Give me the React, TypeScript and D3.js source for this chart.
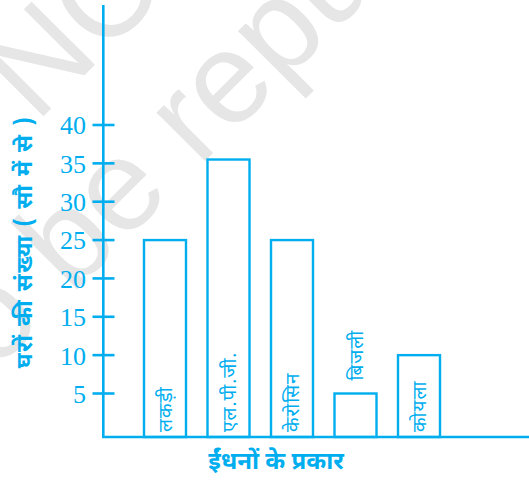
import React from "react";
import * as d3 from "d3";

const categories = ["लकड़ी", "एल.पी.जी.", "केरोसिन", "बिजली", "कोयला"];
const values = [25, 35.5, 25, 5, 10];
const tickValues = [5, 10, 15, 20, 25, 30, 35, 40];
const yTitle = "घरों की संख्या ( सौ में से )";
const xTitle = "ईंधनों के प्रकार";
const watermark1 = "© NCERT";
const watermark2 = "not to be republished";

const W = 529;
const H = 480;
const BLUE = "#00AEEF";
const DEVA = "'Noto Sans Devanagari', 'Lohit Devanagari', 'Noto Sans', sans-serif";

export default function App() {
  const axisX = 103.3;
  const axisY = 437;
  const y = d3.scaleLinear().domain([5, 40]).range([393.5, 125]);
  const x = d3.scalePoint<string>().domain(categories).range([165, 419]);
  const barW = 42;

  return (
    <svg width={W} height={H} style={{ position: "absolute", left: 0, top: 0, background: "#fff" }}>
      <g transform="rotate(-45)" fill="#e6e6e6" fontFamily="'Liberation Sans', Arial, sans-serif" fontSize={130}>
        <text x={-194} y={113}>{watermark1}</text>
        <text x={-520} y={259}>{watermark2}</text>
      </g>

      {/* y axis */}
      <line x1={axisX} x2={axisX} y1={5} y2={axisY + 1} stroke={BLUE} strokeWidth={2.6} />
      {/* x axis */}
      <line x1={axisX - 1} x2={W} y1={axisY} y2={axisY} stroke={BLUE} strokeWidth={2.6} />

      {tickValues.map((t) => (
        <g key={t}>
          <line x1={92.5} x2={114.5} y1={y(t)} y2={y(t)} stroke={BLUE} strokeWidth={2.6} />
          <text
            x={86}
            y={y(t)}
            dy="0.36em"
            textAnchor="end"
            fill={BLUE}
            fontFamily="'Liberation Serif', 'Times New Roman', serif"
            fontSize={26}
          >
            {t}
          </text>
        </g>
      ))}

      {categories.map((c, i) => {
        const cx = x(c) as number;
        const top = y(values[i]);
        const h = axisY - top;
        const inside = h > 60;
        const ly = inside ? axisY - 5 : top - 13;
        return (
          <g key={c}>
            <rect x={cx - barW / 2} y={top} width={barW} height={h} fill="none" stroke={BLUE} strokeWidth={2.4} />
            <text
              transform={`translate(${cx},${ly}) rotate(-90)`}
              dy="0.38em"
              fill={BLUE}
              fontFamily={DEVA}
              fontSize={19}
              letterSpacing={1}
            >
              {c}
            </text>
          </g>
        );
      })}

      <text
        transform={`translate(23,242) rotate(-90)`}
        textAnchor="middle"
        dy="0.38em"
        fill={BLUE}
        fontFamily={DEVA}
        fontWeight="bold"
        fontSize={23}
        letterSpacing={1.5}
      >
        {yTitle}
      </text>

      <text x={276} y={469} textAnchor="middle" fill={BLUE} fontFamily={DEVA} fontWeight="bold" fontSize={24}>
        {xTitle}
      </text>
    </svg>
  );
}
